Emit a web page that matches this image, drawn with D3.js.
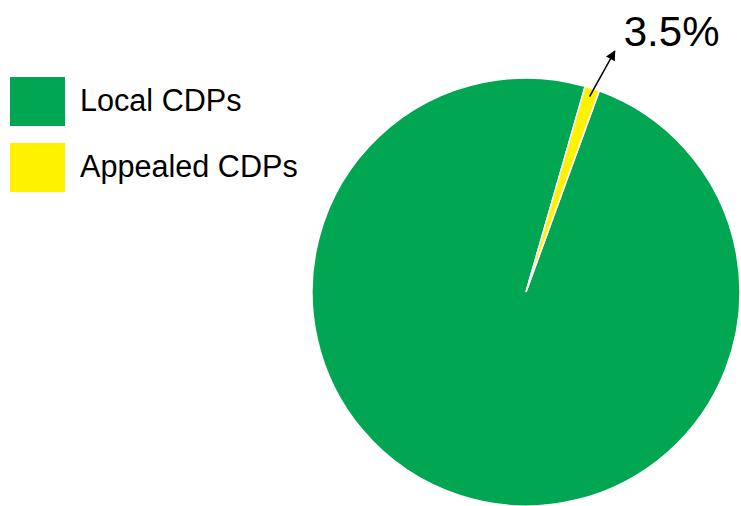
<!DOCTYPE html>
<html>
<head>
<meta charset="utf-8">
<script src="https://cdn.jsdelivr.net/npm/d3@7"></script>
<style>
    body{ margin:0; background:#fff; }
    text{ font-family:"Liberation Sans", Arial, sans-serif; fill:#000; }
</style>
</head>
<body>
<div id="chart"></div>
<script>
// data
var categories = ["Local CDPs", "Appealed CDPs"];
var sliceShares = [98.9, 1.1];      // as drawn in the picture
var calloutLabels = ["", "3.5%"];   // text printed next to the slice
var colors = ["#00a651", "#fff200"];

var width = 741, height = 506;
var cx = 526, cy = 292, radius = 214;

var svg = d3.select("#chart")
  .append("svg")
    .attr("width", width)
    .attr("height", height);

// pie starts at ~20deg so the small slice sits just right of 12 o'clock
var start = 20 * Math.PI / 180;
var pie = d3.pie().sort(null).startAngle(start).endAngle(start + 2 * Math.PI);
var arc = d3.arc().innerRadius(0).outerRadius(radius);
var arcs = pie(sliceShares);

var g = svg.append("g").attr("transform", "translate(" + cx + "," + cy + ")");

g.selectAll("path")
  .data(arcs)
  .enter().append("path")
    .attr("d", arc)
    .attr("fill", function(d, i){ return colors[i]; })
    .attr("stroke", "#fff")
    .attr("stroke-width", 1.5);

// arrow marker
svg.append("defs").append("marker")
    .attr("id", "arrow")
    .attr("viewBox", "0 0 10 10")
    .attr("refX", 9).attr("refY", 5)
    .attr("markerWidth", 11).attr("markerHeight", 10)
    .attr("markerUnits", "userSpaceOnUse")
    .attr("orient", "auto")
  .append("path")
    .attr("d", "M0,0 L10,5 L0,10 z")
    .attr("fill", "#000");

// callout for the small slice
arcs.forEach(function(d, i){
  if (!calloutLabels[i]) return;
  var mid = (d.startAngle + d.endAngle) / 2;
  var r0 = radius * 0.96, r1 = radius * 1.2, a1 = mid + 2.2 * Math.PI / 180;
  g.append("line")
    .attr("x1", r0 * Math.sin(mid)).attr("y1", -r0 * Math.cos(mid))
    .attr("x2", r1 * Math.sin(a1)).attr("y2", -r1 * Math.cos(a1))
    .attr("stroke", "#000").attr("stroke-width", 1.5)
    .attr("marker-end", "url(#arrow)");
  g.append("text")
    .attr("x", r1 * Math.sin(a1) + 9)
    .attr("y", -r1 * Math.cos(a1) - 5)
    .style("font-size", "42px")
    .text(calloutLabels[i]);
});

// legend
var legend = svg.selectAll(".legend")
  .data(categories)
  .enter().append("g")
    .attr("transform", function(d, i){ return "translate(10," + (77 + i * 66) + ")"; });

legend.append("rect")
    .attr("width", 55).attr("height", 49)
    .attr("fill", function(d, i){ return colors[i]; });

legend.append("text")
    .attr("x", 70).attr("y", 34)
    .style("font-size", "30.6px")
    .text(function(d){ return d; });
</script>
</body>
</html>
